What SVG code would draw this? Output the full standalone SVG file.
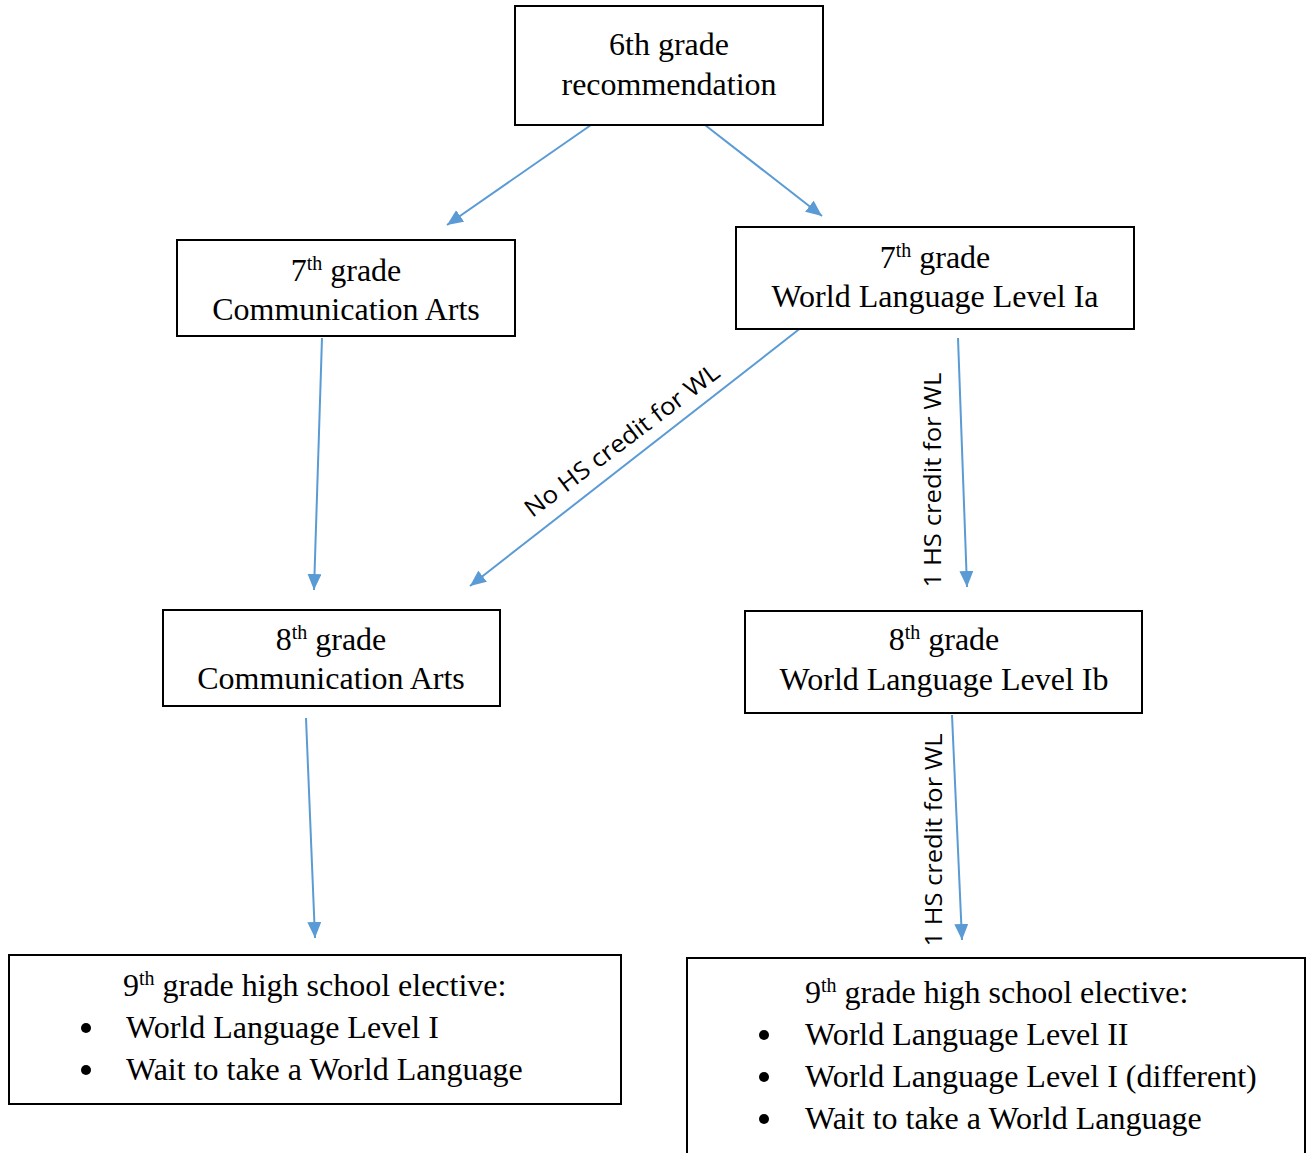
<svg xmlns="http://www.w3.org/2000/svg" width="1307" height="1153" viewBox="0 0 1307 1153">
<style>
.box{fill:#fff;stroke:#000;stroke-width:2}
.t{font-family:"Liberation Serif","Times New Roman",serif;font-size:32px;fill:#000}
.c{text-anchor:middle}
.sup{font-size:20px}
.lbl{font-family:"Open Sans","Liberation Sans",sans-serif;font-size:24px;fill:#000;text-anchor:middle}
.e{stroke:#5B9BD5;stroke-width:2;fill:none;marker-end:url(#ah)}
</style>
<defs>
<marker id="ah" markerWidth="8" markerHeight="7" refX="8" refY="3.5" orient="auto" markerUnits="strokeWidth">
<path d="M0,0 L8,3.5 L0,7 Z" fill="#5B9BD5"/>
</marker>
</defs>
<rect width="1307" height="1153" fill="#fff"/>
<g id="connectors">
<line class="e" x1="591" y1="125" x2="447" y2="225"/>
<line class="e" x1="705" y1="125" x2="822" y2="216"/>
<line class="e" x1="322" y1="338" x2="314" y2="590"/>
<line class="e" x1="802" y1="327" x2="470" y2="586"/>
<line class="e" x1="958" y1="338" x2="967" y2="587"/>
<line class="e" x1="306" y1="718" x2="315" y2="938"/>
<line class="e" x1="952" y1="715" x2="962" y2="940"/>
<text class="lbl" transform="translate(627,447) rotate(-37)" textLength="237" lengthAdjust="spacingAndGlyphs">No HS credit for WL</text>
<text class="lbl" transform="translate(941,480) rotate(-90)" textLength="215" lengthAdjust="spacingAndGlyphs">1 HS credit for WL</text>
<text class="lbl" transform="translate(942,840) rotate(-90)" textLength="213" lengthAdjust="spacingAndGlyphs">1 HS credit for WL</text>
</g>
<g id="n6">
<rect class="box" x="515" y="6" width="308" height="119"/>
<text class="t c" x="669" y="55">6th grade</text>
<text class="t c" x="669" y="95">recommendation</text>
</g>
<g id="n7ca">
<rect class="box" x="177" y="240" width="338" height="96"/>
<text class="t c" x="346" y="281">7<tspan class="sup" dy="-11">th</tspan><tspan dy="11"> grade</tspan></text>
<text class="t c" x="346" y="320">Communication Arts</text>
</g>
<g id="n7wl">
<rect class="box" x="736" y="227" width="398" height="102"/>
<text class="t c" x="935" y="268">7<tspan class="sup" dy="-11">th</tspan><tspan dy="11"> grade</tspan></text>
<text class="t c" x="935" y="307">World Language Level Ia</text>
</g>
<g id="n8ca">
<rect class="box" x="163" y="610" width="337" height="96"/>
<text class="t c" x="331" y="650">8<tspan class="sup" dy="-11">th</tspan><tspan dy="11"> grade</tspan></text>
<text class="t c" x="331" y="689">Communication Arts</text>
</g>
<g id="n8wl">
<rect class="box" x="745" y="611" width="397" height="102"/>
<text class="t c" x="944" y="650">8<tspan class="sup" dy="-11">th</tspan><tspan dy="11"> grade</tspan></text>
<text class="t c" x="944" y="690">World Language Level Ib</text>
</g>
<g id="n9a">
<rect class="box" x="9" y="955" width="612" height="149"/>
<text class="t" x="123" y="996">9<tspan class="sup" dy="-11">th</tspan><tspan dy="11"> grade high school elective:</tspan></text>
<circle cx="86" cy="1028" r="5" fill="#000"/>
<text class="t" x="126" y="1038">World Language Level I</text>
<circle cx="86" cy="1070" r="5" fill="#000"/>
<text class="t" x="126" y="1080">Wait to take a World Language</text>
</g>
<g id="n9b">
<rect class="box" x="687" y="958" width="618" height="200"/>
<text class="t" x="805" y="1003">9<tspan class="sup" dy="-11">th</tspan><tspan dy="11"> grade high school elective:</tspan></text>
<circle cx="764" cy="1035" r="5" fill="#000"/>
<text class="t" x="805" y="1045">World Language Level II</text>
<circle cx="764" cy="1077" r="5" fill="#000"/>
<text class="t" x="805" y="1087">World Language Level I (different)</text>
<circle cx="764" cy="1119" r="5" fill="#000"/>
<text class="t" x="805" y="1129">Wait to take a World Language</text>
</g>
</svg>
